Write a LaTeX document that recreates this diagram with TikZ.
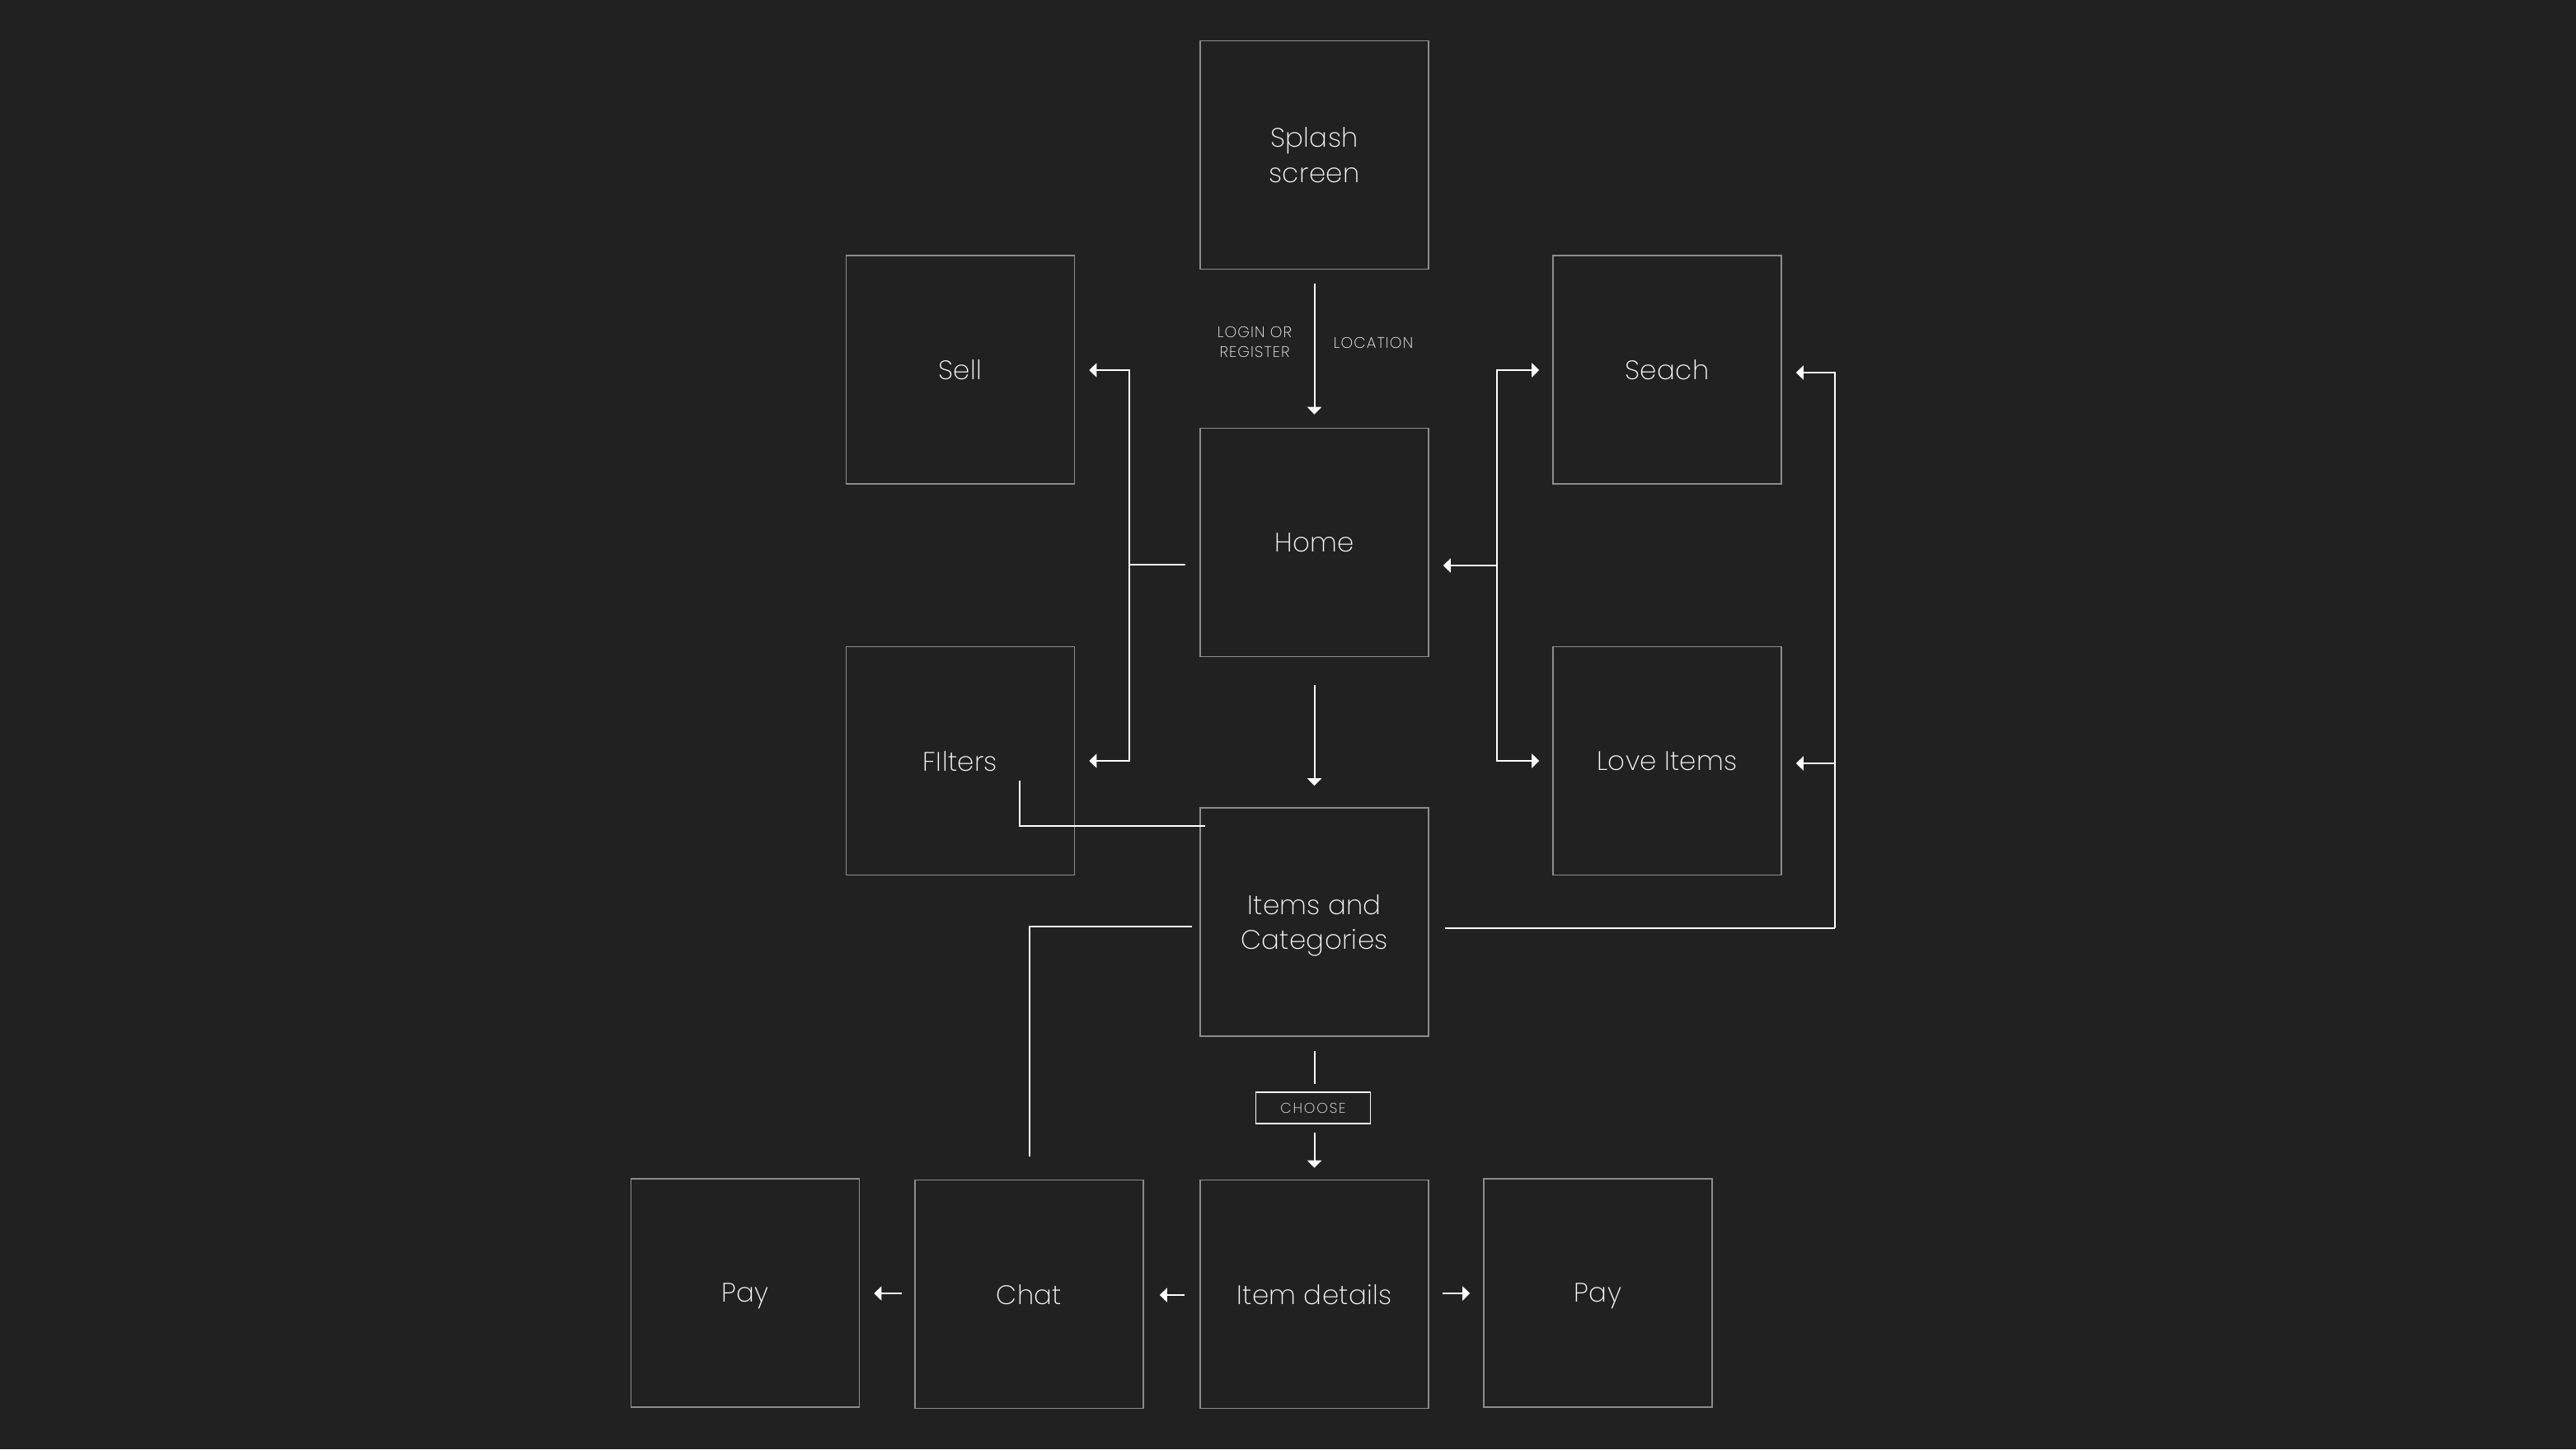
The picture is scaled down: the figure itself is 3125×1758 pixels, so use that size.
\documentclass[tikz,border=0pt]{standalone}
\usepackage{fontspec}
\setmainfont{Poppins ExtraLight}
\usetikzlibrary{arrows.meta,calc}
\definecolor{bg}{RGB}{33,33,33}
\definecolor{boxline}{RGB}{140,140,140}
\definecolor{txt}{RGB}{250,250,250}
\begin{document}
\begin{tikzpicture}[x=0.5pt,y=-0.5pt,
  screen/.style={draw=boxline, line width=0.8pt, minimum width=138.5pt, minimum height=138.5pt,
    inner sep=0pt, text=txt, font=\fontsize{16.2}{21}\selectfont\addfontfeature{LetterSpace=1}, align=center, text depth=0pt},
  conn/.style={draw=white, line width=1pt},
  arr/.style={conn, -{Triangle[width=8.5pt,length=4.5pt]}},
  lbl/.style={text=txt, font=\fontsize{9.3}{11.7}\selectfont\addfontfeature{LetterSpace=6}, align=center, inner sep=0pt},
  tag/.style={draw=txt, line width=0.7pt, minimum width=69.5pt, minimum height=19pt, inner sep=0pt,
    text=txt, font=\fontsize{8.6}{10}\selectfont\addfontfeature{LetterSpace=11}}]
\fill[bg] (0,0) rectangle (3125,1758);
\useasboundingbox (0,0) rectangle (3125,1758);

% screens
\node[screen] (splash) at (1594.5,188) {Splash\\screen};
\node[screen] (sell) at (1165,448.5) {Sell};
\node[screen] (home) at (1594.5,658) {Home};
\node[screen] (seach) at (2022.5,448.5) {Seach};
\node[screen] (filters) at (1165,923) {FIlters};
\node[screen] (love) at (2022.5,923) {Love Items};
\node[screen] (items) at (1594.5,1118.5) {Items and\\Categories};
\node[screen] (payl) at (904,1568.5) {Pay};
\node[screen] (chat) at (1248.5,1570) {Chat};
\node[screen] (details) at (1594.5,1570) {Item details};
\node[screen] (payr) at (1938.5,1568.5) {Pay};

% splash -> home
\draw[arr, shorten <=8.5pt, shorten >=8pt] (splash.south) -- (home.north);
\node[lbl] (login) at (1522,415) {LOGIN OR\\REGISTER};
\node[lbl] (location) at (1666,416) {LOCATION};

% home -> sell / filters
\coordinate (lb) at (1370,685);
\draw[conn] ($(home.west)+(-17,27)$) -- (lb);
\draw[arr] (lb) |- ($(sell.east)+(17,0.5)$);
\draw[arr] (lb) |- ($(filters.east)+(17,0)$);

% home <- seach / love branch
\coordinate (rb) at (1816,686);
\draw[arr] (rb) -- ($(home.east)+(17,28)$);
\draw[arr] (rb) |- ($(seach.west)+(-16,0.5)$);
\draw[arr] (rb) |- ($(love.west)+(-16,0)$);

% home -> items
\draw[arr, shorten <=17pt, shorten >=13pt] (home.south) -- (items.north);

% filters -- items
\coordinate (fl) at ($(filters.center)+(72,24)$);
\draw[conn] (fl) |- ($(items.north west)+(7,23)$);

% items -> seach / love (right side)
\coordinate (rc) at (2226,1126);
\coordinate (rl) at (2226,926);
\draw[conn] ($(items.east)+(19,7.5)$) -- (rc);
\draw[arr] (rc) |- ($(seach.east)+(17,3.5)$);
\draw[arr] (rl) -- ($(love.east)+(17,3)$);

% items -- chat
\draw[conn] ($(items.west)+(-9,5.5)$) -| ($(chat.north)+(0,-28)$);

% items -> choose -> details
\node[tag] (choose) at (1593,1344) {CHOOSE};
\draw[conn, shorten <=8.5pt, shorten >=4.5pt] (items.south) -- (items.south |- choose.north);
\draw[arr, shorten <=5pt, shorten >=7pt] (details.north |- choose.south) -- (details.north);

% bottom row arrows
\draw[arr] ($(details.west)+(-18,1)$) -- ($(chat.east)+(19,1)$);
\draw[arr] ($(chat.west)+(-15,-1)$) -- ($(payl.east)+(17,0.5)$);
\draw[arr] ($(details.east)+(16,-1)$) -- ($(payr.west)+(-16,0.5)$);
\end{tikzpicture}
\end{document}
